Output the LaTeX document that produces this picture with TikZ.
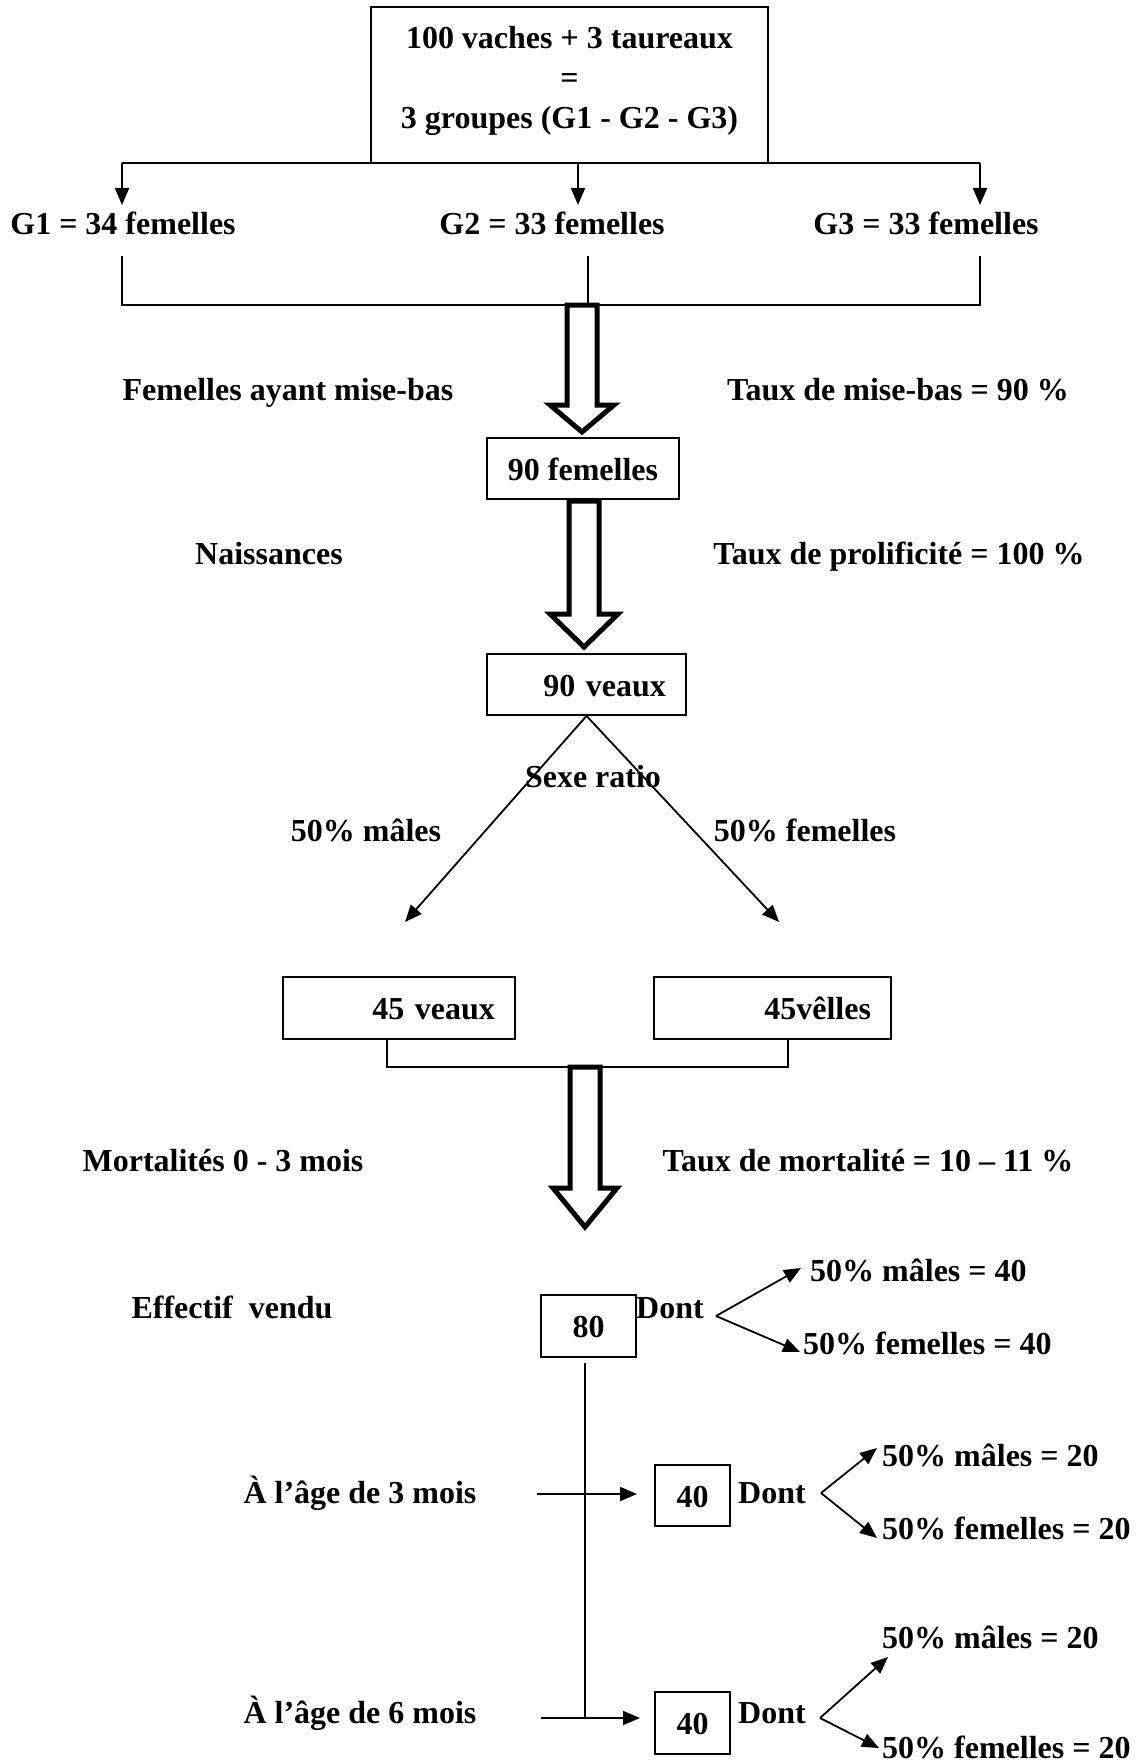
\documentclass[tikz,border=0pt]{standalone}
\usepackage{fontspec}
\setmainfont{Liberation Serif}
\usetikzlibrary{arrows.meta}
\newcommand\hollowarr[6]{%
  \draw[hollow] (#1-#5,#2) -- (#1-#5,#3) -- (#1-#6,#3) -- (#1,#4) -- (#1+#6,#3) -- (#1+#5,#3) -- (#1+#5,#2) -- cycle;}
\begin{document}
\begin{tikzpicture}[x=1pt,y=-1pt,
  every node/.style={font=\fontsize{32}{40}\selectfont\bfseries, inner sep=0pt},
  lab/.style={text height=22pt, text depth=7pt},
  btx/.style={text height=30pt, text depth=7pt},
  cbox/.style={btx, draw, line width=1.8pt, align=center},
  rbox/.style={btx, draw, line width=1.8pt, align=right, text width=#1, inner xsep=20pt, minimum height=61pt},
  thin/.style={line width=1.8pt},
  arr/.style={thin, -{Triangle[length=17pt,width=14pt]}},
  hollow/.style={draw, line width=5pt, miter limit=10}
]
\useasboundingbox (0,0) rectangle (1142,1763);
\fill[white] (0,0) rectangle (1142,1763);

% top box
\node[draw, line width=1.8pt, minimum width=397pt, minimum height=156pt, text height=68pt, text depth=64pt] (top) at (569.5,85)
  {\begin{tabular}{@{}c@{}}100 vaches + 3 taureaux\\=\\3 groupes (G1 - G2 - G3)\end{tabular}};

% groups
\node[lab] (g1) at (123,227) {G1 = 34 femelles};
\node[lab] (g2) at (552,227) {G2 = 33 femelles};
\node[lab] (g3) at (926,227) {G3 = 33 femelles};

\coordinate (t1) at (122,163);
\coordinate (t2) at (578,163);
\coordinate (t3) at (980,163);
\draw[thin] (t1) -- (t3);
\draw[arr] (t1) -- (122,205);
\draw[arr] (t2) -- (578,205);
\draw[arr] (t3) -- (980,205);

% bracket under groups
\coordinate (b1) at (122,256);
\coordinate (b2) at (588,256);
\coordinate (b3) at (980,256);
\draw[thin] (b1) -- (122,305) -- (980,305) -- (b3);
\draw[thin] (b2) -- (588,305);

% side labels
\node[lab] (l1) at (288,393) {Femelles ayant mise-bas};
\node[lab] (r1) at (898,393) {Taux de mise-bas = 90 \%};
\node[lab] (l2) at (269,557) {Naissances};
\node[lab] (r2) at (899,557) {Taux de prolificit\'e = 100 \%};

% boxes
\node[cbox, minimum width=192pt, minimum height=61pt] (f90) at (583,468.5) {90 femelles};
\node[rbox=159pt] (v90) at (586.5,684.5) {90 veaux};

\hollowarr{582}{305}{405}{432}{15}{32}
\hollowarr{584}{501}{614}{647}{15}{34}

% sex ratio fan
\node[lab] (sr) at (593,780) {Sexe ratio};
\node[lab] (pm) at (366,834) {50\% m\^ales};
\node[lab] (pf) at (805,834) {50\% femelles};
\coordinate (fl) at (405,922);
\coordinate (fr) at (779,922);
\draw[arr] (v90.south) -- (fl);
\draw[arr] (v90.south) -- (fr);

\node[rbox=192pt, minimum height=62pt] (v45) at (399,1008) {45 veaux};
\node[rbox=197pt, minimum height=62pt] (vl45) at (772.5,1008) {45v\^elles};
\draw[thin] (v45.south -| 387,0) -- (387,1067) -- (788,1067) -- (vl45.south -| 788,0);

\hollowarr{585}{1067}{1188}{1227}{15}{32}

\node[lab] (l3) at (223,1164) {Mortalit\'es 0 - 3 mois};
\node[lab] (r3) at (868,1164) {Taux de mortalit\'e = 10 -- 11 \%};

% sales
\node[lab] (l4) at (232,1311) {Effectif\ \ vendu};
\node[cbox, minimum width=95pt, minimum height=62pt] (n80) at (588.5,1326) {80};
\node[lab] (d1) at (670,1311) {Dont};
\coordinate (o1) at (716,1316);
\draw[arr] (o1) -- (801,1268);
\draw[arr] (o1) -- (800,1352);
\node[lab, anchor=west] (m40) at (810,1274) {50\% m\^ales = 40};
\node[lab, anchor=west] (f40) at (803,1347) {50\% femelles = 40};

\coordinate (vb) at (585,1718);
\draw[thin] (585,1363) -- (vb);

% 3 months
\node[lab] (l5) at (360,1496) {\`A l'\^age de 3 mois};
\node[cbox, minimum width=75pt, minimum height=61pt] (n40a) at (692.5,1495.5) {40};
\draw[arr] (537,1494) -- (637,1494);
\node[lab] (d2) at (772,1496) {Dont};
\coordinate (o2) at (821,1493);
\draw[arr] (o2) -- (877,1448);
\draw[arr] (o2) -- (877,1538);
\node[lab, anchor=west] (m20a) at (882,1459) {50\% m\^ales = 20};
\node[lab, anchor=west] (f20a) at (882,1532) {50\% femelles = 20};

% 6 months
\node[lab] (l6) at (360,1716) {\`A l'\^age de 6 mois};
\node[cbox, minimum width=75pt, minimum height=62pt] (n40b) at (692.5,1723) {40};
\draw[arr] (541,1718) -- (640,1718);
\node[lab] (d3) at (772,1716) {Dont};
\coordinate (o3) at (820,1718);
\draw[arr] (o3) -- (888,1657);
\draw[arr] (o3) -- (879,1748);
\node[lab, anchor=west] (m20b) at (882,1641) {50\% m\^ales = 20};
\node[lab, anchor=west] (f20b) at (882,1751) {50\% femelles = 20};
\end{tikzpicture}
\end{document}
